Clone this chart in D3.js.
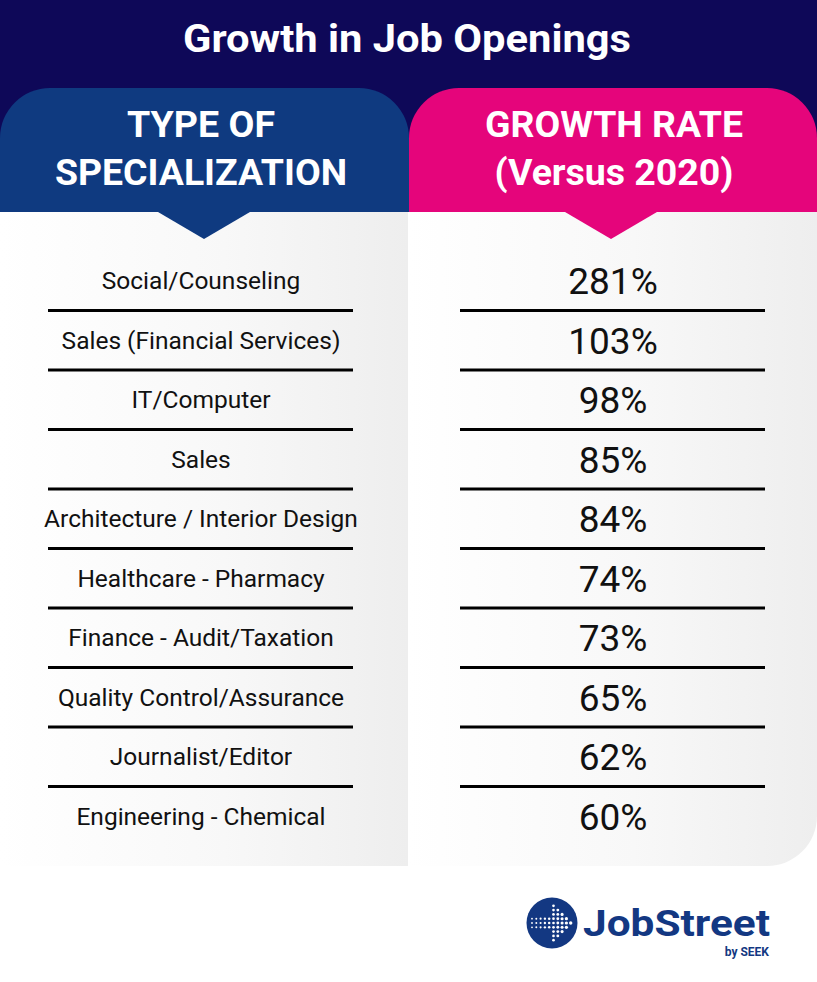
<!DOCTYPE html>
<html>
<head>
<meta charset="utf-8">
<script src="https://cdn.jsdelivr.net/npm/d3@7"></script>
<style>
  html, body { margin: 0; padding: 0; background: #ffffff; }
  svg { display: block; }
</style>
</head>
<body>
<svg id="chart" width="817" height="982"></svg>
<script>
const title = "Growth in Job Openings";
const headerLeft = ["TYPE OF", "SPECIALIZATION"];
const headerRight = ["GROWTH RATE", "(Versus 2020)"];
const categories = [
  "Social/Counseling",
  "Sales (Financial Services)",
  "IT/Computer",
  "Sales",
  "Architecture / Interior Design",
  "Healthcare - Pharmacy",
  "Finance - Audit/Taxation",
  "Quality Control/Assurance",
  "Journalist/Editor",
  "Engineering - Chemical"
];
const growthRates = [281, 103, 98, 85, 84, 74, 73, 65, 62, 60];

const W = 817, H = 982;
const navy = "#0e0858", blue = "#0f3a80", pink = "#e5057b", logoBlue = "#133882";
const svg = d3.select("#chart");

const defs = svg.append("defs");
const grad = defs.append("linearGradient").attr("id", "panelGrad").attr("x1", "0").attr("x2", "1").attr("y1", "0").attr("y2", "0");
grad.append("stop").attr("offset", "0%").attr("stop-color", "#ffffff");
grad.append("stop").attr("offset", "55%").attr("stop-color", "#f8f8f8");
grad.append("stop").attr("offset", "100%").attr("stop-color", "#eeeeee");

svg.append("rect").attr("x", 0).attr("y", 0).attr("width", W).attr("height", H).attr("fill", "#ffffff");
svg.append("rect").attr("x", 0).attr("y", 0).attr("width", W).attr("height", 212).attr("fill", navy);

svg.append("text").attr("x", 407).attr("y", 52).attr("text-anchor", "middle")
  .attr("font-family", "Roboto, sans-serif").attr("font-weight", 700).attr("font-size", 38)
  .attr("fill", "#ffffff").attr("textLength", 448).attr("lengthAdjust", "spacingAndGlyphs")
  .text(title);

function topRounded(x, y, w, h, r) {
  const p = d3.path();
  p.moveTo(x, y + h);
  p.lineTo(x, y + r);
  p.arcTo(x, y, x + r, y, r);
  p.lineTo(x + w - r, y);
  p.arcTo(x + w, y, x + w, y + r, r);
  p.lineTo(x + w, y + h);
  p.closePath();
  return p.toString();
}

svg.append("path").attr("d", topRounded(0, 88, 409, 124, 50)).attr("fill", blue);
svg.append("path").attr("d", topRounded(409, 88, W - 409, 124, 50)).attr("fill", pink);

svg.append("rect").attr("x", 0).attr("y", 212).attr("width", 408).attr("height", 654).attr("fill", "url(#panelGrad)");
(function () {
  const x = 409, y = 212, w = W - 409, h = 654, r = 50;
  const p = d3.path();
  p.moveTo(x, y); p.lineTo(x + w, y); p.lineTo(x + w, y + h - r);
  p.arcTo(x + w, y + h, x + w - r, y + h, r);
  p.lineTo(x, y + h); p.closePath();
  svg.append("path").attr("d", p.toString()).attr("fill", "url(#panelGrad)");
})();

function tri(cx, color) {
  svg.append("path").attr("d", `M${cx - 46},212 L${cx + 46},212 L${cx},239 Z`).attr("fill", color);
}
tri(204, blue);
tri(611, pink);

function hdr(lines, cx, widths) {
  lines.forEach((t, i) => {
    svg.append("text").attr("x", cx).attr("y", 137 + i * 48).attr("text-anchor", "middle")
      .attr("font-family", "Roboto, sans-serif").attr("font-weight", 700).attr("font-size", 36)
      .attr("fill", "#ffffff").attr("textLength", widths[i]).attr("lengthAdjust", "spacingAndGlyphs")
      .text(t);
  });
}
hdr(headerLeft, 201, [148, 292]);
hdr(headerRight, 614, [258, 239]);

const y = d3.scaleBand().domain(categories).range([251, 846]).paddingInner(0);
const rowData = categories.map((c, i) => ({ cat: c, val: growthRates[i] }));

const sepData = categories.slice(1);
svg.append("g").selectAll("line").data(sepData).join("line")
  .attr("x1", 48).attr("x2", 353)
  .attr("y1", d => y(d)).attr("y2", d => y(d))
  .attr("stroke", "#000").attr("stroke-width", 3);
svg.append("g").selectAll("line").data(sepData).join("line")
  .attr("x1", 460).attr("x2", 765)
  .attr("y1", d => y(d)).attr("y2", d => y(d))
  .attr("stroke", "#000").attr("stroke-width", 3);

svg.append("g").selectAll("text").data(rowData).join("text")
  .attr("x", 201).attr("y", d => y(d.cat) + y.bandwidth() / 2)
  .attr("dy", "0.35em").attr("text-anchor", "middle")
  .attr("font-family", "Roboto, sans-serif").attr("font-size", 24.5).attr("fill", "#111")
  .text(d => d.cat);

svg.append("g").selectAll("text").data(rowData).join("text")
  .attr("x", 613).attr("y", d => y(d.cat) + y.bandwidth() / 2)
  .attr("dy", "0.36em").attr("text-anchor", "middle")
  .attr("font-family", "Roboto, sans-serif").attr("font-size", 37).attr("fill", "#111")
  .text(d => d.val + "%");

const logo = svg.append("g");
logo.append("circle").attr("cx", 552).attr("cy", 923).attr("r", 25.5).attr("fill", logoBlue);
const halfH = [1, 1, 1, 1, 1, 4, 3, 2, 1, 0];
const dots = [];
halfH.forEach((hh, ci) => {
  for (let r = -hh; r <= hh; r++) dots.push({ c: ci, r: r });
});
logo.selectAll("circle.dot").data(dots).join("circle")
  .attr("cx", d => 532 + d.c * 4.3).attr("cy", d => 923 + d.r * 4.3)
  .attr("r", d => 0.9 + d.c * 0.09).attr("fill", "#ffffff");
logo.append("text").attr("x", 583).attr("y", 936)
  .attr("font-family", "Roboto, sans-serif").attr("font-weight", 700).attr("font-size", 36)
  .attr("fill", logoBlue).attr("textLength", 187).attr("lengthAdjust", "spacingAndGlyphs")
  .text("JobStreet");
logo.append("text").attr("x", 769).attr("y", 956).attr("text-anchor", "end")
  .attr("font-family", "Roboto, sans-serif").attr("font-weight", 700).attr("font-size", 12)
  .attr("fill", logoBlue).text("by SEEK");
</script>
</body>
</html>
